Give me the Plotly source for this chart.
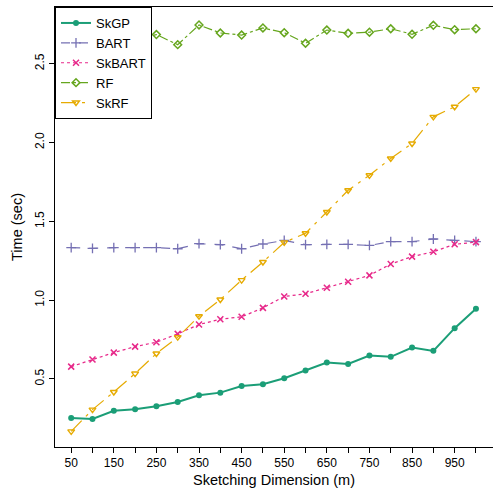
import plotly.graph_objects as go

m = [50, 100, 150, 200, 250, 300, 350, 400, 450, 500,
     550, 600, 650, 700, 750, 800, 850, 900, 950, 1000]

skgp = [0.252, 0.246, 0.298, 0.307, 0.326, 0.354, 0.396, 0.413, 0.455, 0.466,
        0.504, 0.553, 0.604, 0.595, 0.648, 0.640, 0.699, 0.678, 0.822, 0.945]
bart = [1.333, 1.328, 1.333, 1.333, 1.333, 1.326, 1.358, 1.352, 1.326, 1.356,
        1.379, 1.352, 1.354, 1.354, 1.347, 1.371, 1.371, 1.388, 1.379, 1.371]
skbart = [0.578, 0.623, 0.667, 0.705, 0.733, 0.786, 0.845, 0.879, 0.894, 0.951,
          1.023, 1.040, 1.078, 1.117, 1.157, 1.229, 1.276, 1.307, 1.354, 1.368]
rf = [2.69, 2.70, 2.68, 2.653, 2.685, 2.621, 2.746, 2.695, 2.682, 2.727,
      2.697, 2.630, 2.714, 2.693, 2.700, 2.722, 2.687, 2.744, 2.716, 2.722]
skrf = [0.167, 0.305, 0.417, 0.534, 0.661, 0.765, 0.898, 1.004, 1.127, 1.242,
        1.366, 1.424, 1.559, 1.697, 1.792, 1.899, 1.994, 2.163, 2.227, 2.339]

x_ticks = list(range(50, 1001, 50))
x_ticklabels = [str(v) if v % 100 == 50 else "" for v in x_ticks]
y_ticks = [0.5, 1.0, 1.5, 2.0, 2.5]
y_ticklabels = ["0.5", "1.0", "1.5", "2.0", "2.5"]

FONT = "Liberation Sans, Arial, Helvetica, sans-serif"

series = [
    ("SkGP", skgp, "#1B9E77", "solid", "circle", 6, 2.0, 0),
    ("BART", bart, "#7570B3", "dash", "cross-thin-open", 7, 1.2, 1.3),
    ("SkBART", skbart, "#E7298A", "dot", "x-thin-open", 6, 1.2, 1.5),
    ("RF", rf, "#66A61E", "dashdot", "diamond-open", 6, 1.2, 1.5),
    ("SkRF", skrf, "#E6AB02", "longdashdot", "triangle-down-open", 6, 1.2, 1.4),
]

fig = go.Figure()
for name, ys, color, dash, sym, size, lw, mlw in series:
    fig.add_trace(go.Scatter(
        x=m, y=ys, name=name, mode="lines+markers",
        line=dict(color=color, dash=dash, width=lw),
        marker=dict(symbol=sym, size=size, color=color,
                    line=dict(color=color, width=mlw)),
    ))

fig.update_layout(
    width=493, height=489,
    margin=dict(l=55, r=0, t=7, b=42),
    paper_bgcolor="white", plot_bgcolor="white",
    font=dict(family=FONT, size=12, color="black"),
    showlegend=True,
    legend=dict(
        x=0, y=1, xanchor="left", yanchor="top",
        bgcolor="white", bordercolor="black", borderwidth=1,
        font=dict(family=FONT, size=13, color="black"),
        tracegroupgap=0, itemwidth=30,
    ),
    xaxis=dict(
        range=[12, 1040], tickmode="array", tickvals=x_ticks, ticktext=x_ticklabels,
        showgrid=False, zeroline=False,
        showline=True, linecolor="black", linewidth=1, mirror=True,
        ticks="outside", ticklen=5, tickwidth=1, tickcolor="black",
        tickfont=dict(size=12),
        title=dict(text="Sketching Dimension (m)", font=dict(size=14.5), standoff=5),
    ),
    yaxis=dict(
        range=[0.068, 2.86], tickmode="array", tickvals=y_ticks, ticktext=y_ticklabels,
        showgrid=False, zeroline=False,
        showline=True, linecolor="black", linewidth=1, mirror=False,
        ticks="outside", ticklen=5, tickwidth=1, tickcolor="black",
        tickangle=-90, tickfont=dict(size=12),
        title=dict(text="Time (sec)", font=dict(size=14.5), standoff=7),
    ),
)

fig.write_html("out.html")
